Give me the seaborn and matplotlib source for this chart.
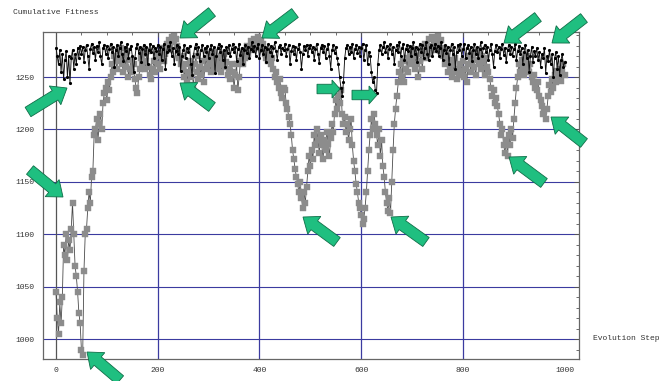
import matplotlib
matplotlib.use("Agg")
import matplotlib.pyplot as plt
import matplotlib.transforms as mtransforms
from matplotlib.patches import FancyArrow
import numpy as np
import pandas as pd
import seaborn as sns

# ---------------- data ----------------
steps = [i * 2.5 for i in range(401)]   # evolution steps 0, 2.5, ..., 1000

gray_fitness = [
    1045, 1020, 1005, 1035, 1015, 1040, 1090, 1080, 1100, 1075, 1095, 1085, 1105, 1130, 1100, 1070, 1060, 1045, 1025, 1015,
    990, 985, 1065, 1100, 1105, 1125, 1140, 1130, 1155, 1160, 1195, 1200, 1210, 1190, 1205, 1215, 1200, 1225, 1235, 1240,
    1228, 1245, 1238, 1250, 1262, 1255, 1270, 1265, 1258, 1275, 1268, 1278, 1262, 1255, 1270, 1260, 1275, 1250, 1258, 1266,
    1255, 1262, 1248, 1240, 1235, 1250, 1258, 1268, 1262, 1272, 1258, 1265, 1275, 1260, 1252, 1248, 1258, 1265, 1255, 1270,
    1262, 1272, 1258, 1268, 1278, 1265, 1272, 1282, 1276, 1285, 1280, 1288, 1283, 1291, 1286, 1280, 1275, 1268, 1262, 1270,
    1258, 1250, 1262, 1245, 1255, 1265, 1250, 1258, 1242, 1262, 1270, 1255, 1248, 1260, 1252, 1265, 1245, 1258, 1268, 1260,
    1272, 1262, 1255, 1268, 1260, 1274, 1265, 1258, 1270, 1262, 1255, 1266, 1272, 1260, 1264, 1252, 1258, 1248, 1262, 1255,
    1240, 1252, 1262, 1238, 1250, 1265, 1270, 1262, 1275, 1268, 1280, 1272, 1278, 1284, 1276, 1282, 1286, 1278, 1283, 1288,
    1280, 1285, 1276, 1282, 1272, 1268, 1275, 1265, 1270, 1262, 1268, 1258, 1250, 1255, 1245, 1240, 1248, 1235, 1230, 1240,
    1238, 1225, 1220, 1212, 1205, 1195, 1180, 1172, 1162, 1155, 1148, 1140, 1150, 1135, 1125, 1140, 1130, 1145, 1160, 1175,
    1165, 1180, 1172, 1195, 1185, 1200, 1190, 1178, 1195, 1185, 1172, 1190, 1180, 1198, 1186, 1175, 1192, 1205, 1198, 1215,
    1228, 1220, 1232, 1225, 1238, 1215, 1205, 1212, 1198, 1205, 1190, 1200, 1210, 1185, 1170, 1160, 1148, 1140, 1130, 1125,
    1118, 1110, 1115, 1125, 1140, 1160, 1180, 1195, 1210, 1200, 1215, 1205, 1195, 1185, 1200, 1175, 1190, 1165, 1155, 1140,
    1130, 1122, 1135, 1120, 1150, 1180, 1205, 1220, 1232, 1245, 1255, 1262, 1250, 1265, 1245, 1258, 1268, 1255, 1270, 1262,
    1268, 1276, 1258, 1270, 1262, 1250, 1265, 1272, 1258, 1275, 1282, 1268, 1278, 1286, 1272, 1280, 1288, 1276, 1284, 1278,
    1290, 1282, 1275, 1285, 1270, 1278, 1262, 1270, 1255, 1266, 1258, 1250, 1262, 1255, 1268, 1248, 1258, 1252, 1262, 1256,
    1265, 1250, 1258, 1245, 1262, 1270, 1255, 1265, 1272, 1260, 1252, 1266, 1274, 1262, 1258, 1270, 1264, 1252, 1268, 1260,
    1255, 1248, 1240, 1232, 1238, 1225, 1230, 1222, 1215, 1205, 1195, 1200, 1185, 1178, 1190, 1175, 1195, 1185, 1200, 1192,
    1210, 1225, 1240, 1250, 1262, 1255, 1266, 1258, 1252, 1264, 1270, 1260, 1255, 1262, 1250, 1245, 1252, 1240, 1238, 1245,
    1232, 1228, 1222, 1215, 1218, 1210, 1220, 1232, 1242, 1236, 1248, 1240, 1252, 1245, 1256, 1250, 1258, 1246, 1255, 1262,
    1252,
]

black_fitness = [
    1278, 1270, 1262, 1276, 1255, 1272, 1248, 1266, 1275, 1250, 1270, 1244, 1268, 1276, 1258, 1272, 1262, 1278, 1268, 1280,
    1272, 1279, 1264, 1276, 1281, 1270, 1258, 1277, 1282, 1273, 1279, 1266, 1280, 1274, 1283, 1270, 1262, 1278, 1281, 1272,
    1280, 1268, 1277, 1282, 1274, 1279, 1260, 1276, 1281, 1270, 1278, 1283, 1272, 1265, 1279, 1275, 1282, 1268, 1277, 1280,
    1270, 1255, 1268, 1278, 1282, 1273, 1279, 1264, 1277, 1281, 1272, 1279, 1262, 1276, 1282, 1274, 1280, 1268, 1278, 1275,
    1281, 1272, 1279, 1266, 1277, 1282, 1258, 1274, 1280, 1276, 1283, 1270, 1278, 1262, 1275, 1281, 1272, 1279, 1256, 1270,
    1276, 1281, 1268, 1278, 1274, 1280, 1262, 1252, 1270, 1278, 1282, 1272, 1279, 1265, 1276, 1281, 1270, 1278, 1274, 1280,
    1268, 1277, 1281, 1272, 1279, 1254, 1270, 1278, 1282, 1274, 1280, 1266, 1276, 1260, 1279, 1273, 1281, 1270, 1277, 1282,
    1274, 1279, 1265, 1277, 1282, 1271, 1278, 1262, 1276, 1281, 1273, 1279, 1268, 1277, 1283, 1275, 1280, 1270, 1278, 1282,
    1268, 1276, 1281, 1272, 1279, 1264, 1277, 1282, 1274, 1280, 1270, 1278, 1283, 1275, 1266, 1279, 1281, 1272, 1278, 1276,
    1282, 1270, 1277, 1281, 1262, 1275, 1280, 1272, 1279, 1266, 1277, 1282, 1274, 1258, 1272, 1280, 1276, 1281, 1270, 1278,
    1281, 1274, 1279, 1266, 1277, 1282, 1272, 1263, 1278, 1281, 1274, 1280, 1268, 1277, 1282, 1270, 1258, 1276, 1281, 1273,
    1279, 1268, 1262, 1250, 1240, 1232, 1245, 1268, 1278, 1281, 1272, 1279, 1274, 1282, 1268, 1277, 1281, 1273, 1279, 1270,
    1278, 1282, 1266, 1276, 1281, 1262, 1274, 1270, 1255, 1245, 1250, 1238, 1235, 1262, 1276, 1281, 1272, 1279, 1283, 1274,
    1280, 1268, 1277, 1282, 1272, 1279, 1262, 1276, 1281, 1274, 1283, 1270, 1278, 1282, 1266, 1277, 1281, 1275, 1280, 1270,
    1278, 1283, 1272, 1279, 1264, 1277, 1282, 1274, 1281, 1268, 1278, 1283, 1272, 1266, 1279, 1281, 1270, 1278, 1282, 1275,
    1280, 1270, 1278, 1283, 1266, 1276, 1281, 1273, 1279, 1262, 1276, 1282, 1272, 1279, 1258, 1274, 1281, 1276, 1282, 1270,
    1277, 1282, 1268, 1278, 1281, 1273, 1279, 1265, 1276, 1282, 1272, 1279, 1268, 1277, 1283, 1270, 1278, 1281, 1274, 1279,
    1266, 1276, 1282, 1272, 1260, 1275, 1281, 1274, 1279, 1268, 1277, 1282, 1271, 1278, 1264, 1276, 1281, 1272, 1279, 1270,
    1277, 1282, 1266, 1275, 1280, 1272, 1278, 1262, 1274, 1281, 1268, 1276, 1255, 1270, 1279, 1264, 1275, 1270, 1278, 1266,
    1274, 1260, 1272, 1268, 1278, 1254, 1270, 1265, 1276, 1262, 1272, 1250, 1268, 1274, 1258, 1270, 1252, 1266, 1272, 1260,
    1264,
]

x_ticks = [0, 200, 400, 600, 800, 1000]
y_ticks = [1000, 1050, 1100, 1150, 1200, 1250]
grid_x = [200, 400, 600, 800]
grid_y = [1000, 1050, 1100, 1150, 1200, 1250]
x_label = "Evolution Step"
y_label = "Cumulative Fitness"

# annotation arrows (tail x, tail y, tip x, tip y) in picture pixels
arrows = [
    (28, 112, 67, 88), (30, 170, 63, 197), (120, 380, 87, 352),
    (212, 12, 180, 38), (212, 107, 180, 83), (295, 13, 262, 38),
    (317, 89, 340, 89), (352, 95, 377, 95), (337, 242, 303, 217),
    (426, 242, 391, 217), (538, 17, 504, 43), (584, 18, 552, 43),
    (584, 143, 551, 117), (544, 183, 509, 157),
]

df_gray = pd.DataFrame({"step": steps, "fitness": gray_fitness})
df_black = pd.DataFrame({"step": steps, "fitness": black_fitness})

# ---------------- figure ----------------
sns.set_theme(style="white")
plt.rcParams["font.family"] = ["Liberation Mono", "DejaVu Sans Mono"]

W, H = 672, 381
fig = plt.figure(figsize=(W / 100, H / 100), dpi=100)
ax = fig.add_axes([43 / W, 1 - 359 / H, (579 - 43) / W, (359 - 32) / H])

grid_col = "#3b3ba0"
for gx in grid_x:
    ax.axvline(gx, color=grid_col, lw=0.9, zorder=0.5)
for gy in grid_y:
    ax.axhline(gy, color=grid_col, lw=0.8, zorder=0.5)
ax.axvline(0, color="#555555", lw=0.9, zorder=0.5)

sns.lineplot(data=df_gray, x="step", y="fitness", ax=ax, color="#4a4a4a",
             lw=0.6, marker="s", markersize=3.8, markerfacecolor="#8c8c8c",
             markeredgecolor="#8c8c8c", markeredgewidth=0.3, zorder=2)
sns.lineplot(data=df_black, x="step", y="fitness", ax=ax, color="#111111",
             lw=0.65, marker="o", markersize=1.5, markerfacecolor="black",
             markeredgecolor="black", zorder=3)

ax.set_xlim(-25.5, 1028)
ax.set_ylim(981, 1293)
ax.set_xticks(x_ticks)
ax.set_yticks(y_ticks)
ax.set_xticks(np.arange(0, 1001, 50), minor=True)
ax.set_yticks(np.arange(990, 1291, 10), minor=True)
ax.set_xlabel("")
ax.set_ylabel("")
ax.tick_params(axis="both", which="both", direction="in", top=True, right=True,
               colors="#555555", labelcolor="#333333", labelsize=5.8)
ax.tick_params(axis="both", which="major", length=3.5, width=0.7)
ax.tick_params(axis="both", which="minor", length=2, width=0.6)
ax.tick_params(axis="y", pad=6)
ax.tick_params(axis="x", pad=6)
for s in ax.spines.values():
    s.set_color("#666666")
    s.set_linewidth(0.9)

fig.text(13 / W, 1 - 13 / H, y_label, ha="left", va="center",
         fontsize=5.8, color="#333333")
fig.text(593 / W, 1 - 338 / H, x_label, ha="left", va="center",
         fontsize=5.8, color="#333333")

pix = mtransforms.Affine2D().scale(1 / W, -1 / H).translate(0, 1) + fig.transFigure
for (x0, y0, x1, y1) in arrows:
    dx, dy = x1 - x0, y1 - y0
    L = np.hypot(dx, dy)
    if L < 30:
        w, hw, hl = 9.5, 18, 8
    else:
        w, hw, hl = 11, 22, 14
    arr = FancyArrow(x0, y0, dx, dy, width=w, head_width=hw, head_length=hl,
                     length_includes_head=True, transform=pix,
                     facecolor="#1fbf80", edgecolor="#0f6e48", lw=0.6,
                     clip_on=False, zorder=10)
    fig.add_artist(arr)

fig.savefig("out.png", dpi=100)
